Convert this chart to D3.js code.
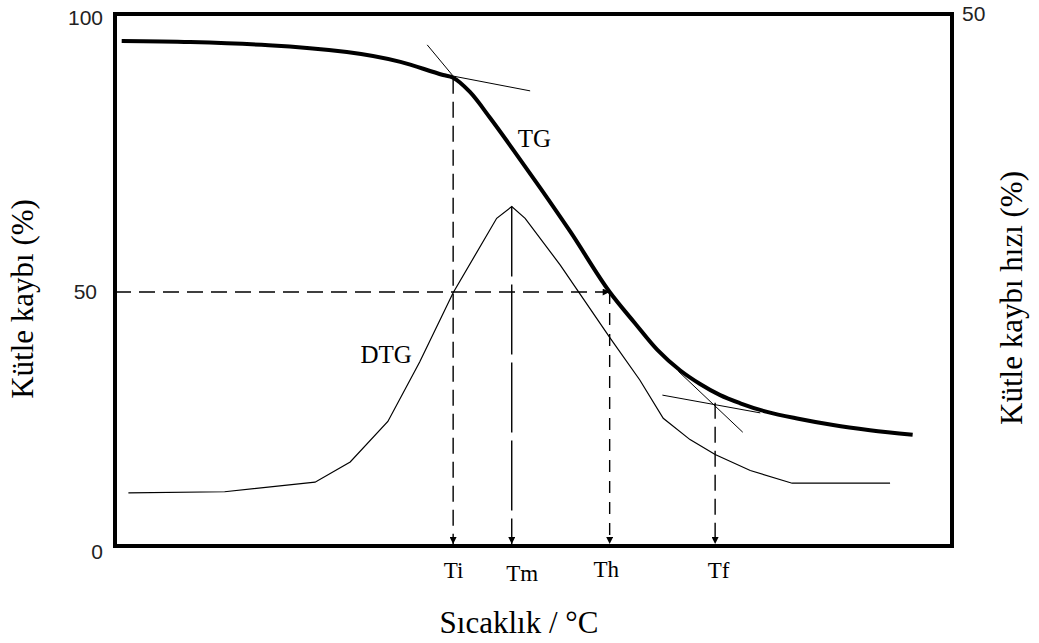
<!DOCTYPE html>
<html>
<head>
<meta charset="utf-8">
<script src="https://cdn.jsdelivr.net/npm/d3@7"></script>
<style>
  body { margin: 0; background: #fff; }
  svg { display: block; }
</style>
</head>
<body>
<div id="chart"></div>
<script>
// relative temperature (0..100 across the frame), mass loss % (left), rate % (right)
const tgTemp = [0.8, 9.0, 27.7, 34.1, 39.2, 40.4, 42.4, 44.8, 47.6, 50.8, 54.4, 59.1, 62.1, 64.8, 67.5, 69.9, 72.3, 74.7, 77.9, 81.8, 85.8, 90.2, 95.3];
const tgMass = [95.8, 95.6, 93.8, 92.0, 89.6, 89.1, 86.5, 81.8, 75.9, 69.0, 61.0, 50.0, 43.9, 38.6, 34.6, 31.9, 29.7, 28.1, 26.4, 25.0, 23.8, 22.8, 21.9];

const dtgTemp = [1.6, 13.1, 23.9, 28.1, 32.6, 36.4, 40.4, 45.6, 47.4, 49.0, 53.2, 59.1, 62.7, 65.5, 68.7, 71.7, 75.9, 80.9, 92.6];
const dtgRate = [5.0, 5.1, 6.0, 7.9, 11.7, 17.3, 23.8, 30.8, 31.9, 30.8, 26.4, 19.6, 15.6, 12.0, 10.0, 8.6, 7.1, 5.9, 5.9];

// characteristic temperatures
const markNames = ["Ti", "Tm", "Th", "Tf"];
const markTemp = [40.4, 47.4, 59.1, 71.7];
const markMass = [89.1, null, 50.0, 28.2];   // start point on the TG curve
const markRate = [null, 31.9, null, null];   // Tm starts at the DTG peak

// tangent lines [x1, y1, x2, y2] in temperature / mass units
const tangents = [
  [37.3, 95.1, 41.0, 88.3],
  [40.4, 89.4, 49.6, 86.7],
  [67.3, 34.4, 75.0, 22.4],
  [65.4, 29.7, 77.1, 26.2]
];

const leftTicks = [0, 50, 100];
const rightTicks = [50];

const margin = { top: 14, right: 87, bottom: 97, left: 115 },
  width = 1039 - margin.left - margin.right,
  height = 643 - margin.top - margin.bottom;

const serif = "Liberation Serif, Times New Roman, serif";
const sans = "Liberation Sans, Arial, sans-serif";

const svg = d3
  .select("#chart")
  .append("svg")
  .attr("width", 1039)
  .attr("height", 643);

const defs = svg.append("defs");
defs
  .append("marker")
  .attr("id", "arrow")
  .attr("viewBox", "0 0 10 10")
  .attr("refX", 10)
  .attr("refY", 5)
  .attr("markerWidth", 10)
  .attr("markerHeight", 7)
  .attr("markerUnits", "userSpaceOnUse")
  .attr("orient", "auto")
  .append("path")
  .attr("d", "M0,0L10,5L0,10z")
  .attr("fill", "#000");

const g = svg.append("g").attr("transform", `translate(${margin.left},${margin.top})`);

const x = d3.scaleLinear().domain([0, 100]).range([0, width]);
const yLeft = d3.scaleLinear().domain([0, 50, 100]).range([height, 278, 4]);
const yRight = d3.scaleLinear().domain([0, 50]).range([height, 0]);

// frame
g.append("rect")
  .attr("x", 0)
  .attr("y", 0)
  .attr("width", width)
  .attr("height", height)
  .attr("fill", "none")
  .attr("stroke", "#000")
  .attr("stroke-width", 4);

// horizontal dashed line at 50 %
g.append("line")
  .attr("x1", x(0))
  .attr("x2", x(markTemp[2]))
  .attr("y1", yLeft(50))
  .attr("y2", yLeft(50))
  .attr("stroke", "#000")
  .attr("stroke-width", 1.4)
  .attr("stroke-dasharray", "16,8")
  .attr("marker-end", "url(#arrow)");

// vertical drop lines
const dashes = ["16,8", "70,8", "12,9", "16,8"];
markNames.forEach((name, i) => {
  const yStart = markMass[i] != null ? yLeft(markMass[i]) : yRight(markRate[i]);
  g.append("line")
    .attr("x1", x(markTemp[i]))
    .attr("x2", x(markTemp[i]))
    .attr("y1", yStart)
    .attr("y2", height - 2)
    .attr("stroke", "#000")
    .attr("stroke-width", 1.4)
    .attr("stroke-dasharray", dashes[i])
    .attr("marker-end", "url(#arrow)");
});

// tangents
g.selectAll(".tangent")
  .data(tangents)
  .join("line")
  .attr("class", "tangent")
  .attr("x1", (d) => x(d[0]))
  .attr("y1", (d) => yLeft(d[1]))
  .attr("x2", (d) => x(d[2]))
  .attr("y2", (d) => yLeft(d[3]))
  .attr("stroke", "#000")
  .attr("stroke-width", 1);

// DTG curve
const dtgLine = d3
  .line()
  .x((d) => x(d[0]))
  .y((d) => yRight(d[1]));
g.append("path")
  .datum(d3.zip(dtgTemp, dtgRate))
  .attr("d", dtgLine)
  .attr("fill", "none")
  .attr("stroke", "#000")
  .attr("stroke-width", 1.2);

// TG curve
const tgLine = d3
  .line()
  .curve(d3.curveMonotoneX)
  .x((d) => x(d[0]))
  .y((d) => yLeft(d[1]));
g.append("path")
  .datum(d3.zip(tgTemp, tgMass))
  .attr("d", tgLine)
  .attr("fill", "none")
  .attr("stroke", "#000")
  .attr("stroke-width", 4)
  .attr("stroke-linejoin", "round");

// curve labels
g.append("text")
  .attr("x", x(50.1))
  .attr("y", yLeft(76.5))
  .attr("text-anchor", "middle")
  .style("font-family", serif)
  .style("font-size", "25px")
  .text("TG");

g.append("text")
  .attr("x", x(32.4))
  .attr("y", yRight(17.2))
  .attr("text-anchor", "middle")
  .style("font-family", serif)
  .style("font-size", "25px")
  .text("DTG");

// left axis
const leftAxis = g
  .append("g")
  .call(d3.axisLeft(yLeft).tickValues(leftTicks).tickSize(0).tickPadding(12));
leftAxis.select(".domain").remove();
leftAxis
  .selectAll("text")
  .style("font-family", sans)
  .style("font-size", "21px")
  .attr("fill", "#222")
  .attr("x", (d) => (d === 50 ? -18 : -12))
  .attr("dy", (d) => (d === 0 ? "0.6em" : "0.32em"));

// right axis
const rightAxis = g
  .append("g")
  .attr("transform", `translate(${width},0)`)
  .call(d3.axisRight(yRight).tickValues(rightTicks).tickSize(0).tickPadding(10));
rightAxis.select(".domain").remove();
rightAxis
  .selectAll("text")
  .style("font-family", sans)
  .style("font-size", "21px")
  .attr("fill", "#222")
  .attr("dy", "0.3em");

// bottom axis with the characteristic temperatures
const labelShift = [0, 10, -4, 3];
const labelDrop = [0, 3, -1, 0];
const bottomAxis = g
  .append("g")
  .attr("transform", `translate(0,${height})`)
  .call(
    d3.axisBottom(x)
      .tickValues(markTemp)
      .tickFormat((d, i) => markNames[i])
      .tickSize(0)
      .tickPadding(0)
  );
bottomAxis.select(".domain").remove();
bottomAxis
  .selectAll("text")
  .style("font-family", serif)
  .style("font-size", "23px")
  .attr("fill", "#000")
  .attr("dy", null)
  .attr("x", (d, i) => labelShift[i])
  .attr("y", (d, i) => 32 + labelDrop[i]);

// axis titles
svg.append("text")
  .attr("x", 519)
  .attr("y", 633)
  .attr("text-anchor", "middle")
  .style("font-family", serif)
  .style("font-size", "31px")
  .text("Sıcaklık / °C");

svg.append("text")
  .attr("transform", "translate(33,299) rotate(-90)")
  .attr("text-anchor", "middle")
  .style("font-family", serif)
  .style("font-size", "31px")
  .text("Kütle kaybı (%)");

svg.append("text")
  .attr("transform", "translate(1022,298) rotate(-90)")
  .attr("text-anchor", "middle")
  .style("font-family", serif)
  .style("font-size", "31px")
  .text("Kütle kaybı hızı (%)");
</script>
</body>
</html>
